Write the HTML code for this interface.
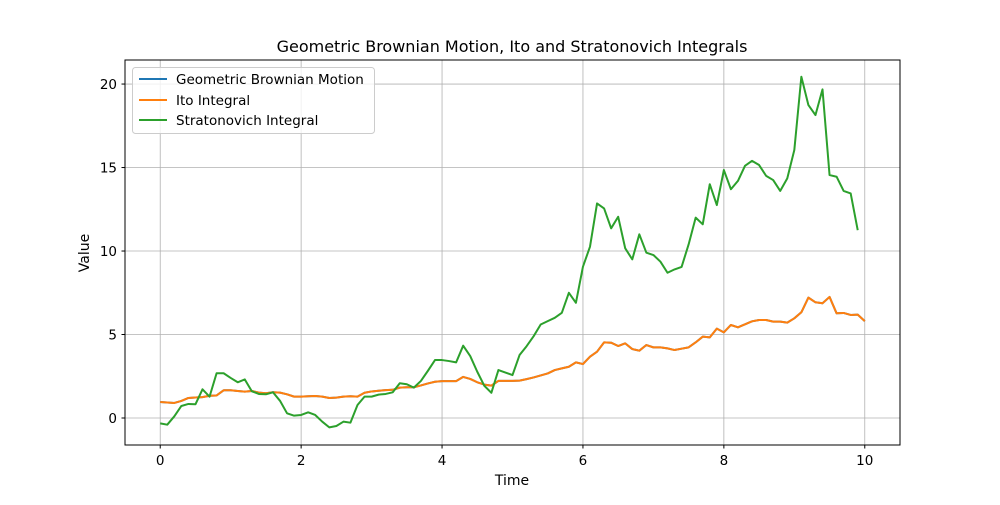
<!DOCTYPE html>
<html><head><meta charset="utf-8"><style>
body{margin:0;background:#fff;font-family:"Liberation Sans","DejaVu Sans",sans-serif}
svg text{font-family:"DejaVu Sans","Liberation Sans",sans-serif}
</style></head><body>
<svg id="chart" width="1000" height="500" xmlns="http://www.w3.org/2000/svg">
<rect width="1000" height="500" fill="#fff"/>
<text x="512" y="52" font-size="16" text-anchor="middle">Geometric Brownian Motion, Ito and Stratonovich Integrals</text>
<g id="grid"></g><g id="ticks"></g><g id="series"></g>
<rect x="125" y="60" width="775" height="385" fill="none" stroke="#000" stroke-width="1"/>
<text x="512" y="485" font-size="14" text-anchor="middle">Time</text>
<text x="89" y="253" font-size="14" text-anchor="middle" transform="rotate(-90 89 253)">Value</text>
<g>
<rect x="132.5" y="67.5" width="242" height="66" rx="3" fill="#fff" fill-opacity="0.8" stroke="#ccc"/>
<g><line x1="139" y1="79" x2="167" y2="79" stroke="#1f77b4" stroke-width="2"/><text x="176" y="84" font-size="13.5">Geometric Brownian Motion</text></g>
<g><line x1="139" y1="100" x2="167" y2="100" stroke="#ff7f0e" stroke-width="2"/><text x="176" y="105" font-size="13.5">Ito Integral</text></g>
<g><line x1="139" y1="120" x2="167" y2="120" stroke="#2ca02c" stroke-width="2"/><text x="176" y="125" font-size="13.5">Stratonovich Integral</text></g>
</g>
</svg>
<script>
const xTicks=[0,2,4,6,8,10];
const yTicks=[0,5,10,15,20];
const dt=0.1;
const gbm=[0.96,0.93,0.9,1.02,1.2,1.23,1.25,1.33,1.35,1.66,1.66,1.62,1.58,1.62,1.52,1.48,1.54,1.52,1.42,1.28,1.28,1.3,1.32,1.28,1.2,1.22,1.28,1.3,1.28,1.51,1.59,1.63,1.67,1.69,1.82,1.84,1.84,1.95,2.07,2.17,2.21,2.21,2.21,2.46,2.34,2.14,2.0,1.94,2.22,2.22,2.22,2.24,
2.33,2.43,2.55,2.67,2.87,2.97,3.07,3.33,3.23,3.67,3.97,4.53,4.51,4.31,4.47,4.13,4.03,4.37,4.23,4.23,4.17,4.07,4.15,4.23,4.53,4.87,4.83,5.35,5.13,5.57,5.43,5.61,5.79,5.87,5.87,5.77,5.77,5.71,5.97,6.33,7.21,6.93,6.87,7.25,6.27,6.29,6.17,6.19,5.8];
const ito=gbm.slice();
const strat=[-0.32,-0.4,0.1,0.72,0.84,0.82,1.72,1.28,2.68,2.68,2.4,2.14,2.31,1.6,1.44,1.42,1.54,1.03,0.28,0.14,0.18,0.34,0.18,-0.22,-0.56,-0.48,-0.22,-0.28,0.78,1.28,1.28,1.4,1.44,1.54,2.08,2.02,1.82,2.22,2.83,3.47,3.47,3.41,3.33,4.33,3.71,2.77,1.93,1.51,2.87,2.72,2.57,3.77,
4.3,4.9,5.6,5.8,6.0,6.3,7.5,6.9,9.06,10.26,12.85,12.55,11.36,12.05,10.16,9.5,11.0,9.9,9.76,9.36,8.7,8.9,9.05,10.4,12.0,11.6,14.0,12.75,14.85,13.7,14.2,15.1,15.4,15.15,14.5,14.25,13.6,14.35,16.05,20.44,18.74,18.14,19.68,14.55,14.45,13.6,13.45,11.25];
const NS="http://www.w3.org/2000/svg";
const X=v=>125+(v+0.5)/11*775;
const Y=v=>445-(v+1.617)/(21.44+1.617)*385;
const grid=document.getElementById('grid'),ticks=document.getElementById('ticks'),ser=document.getElementById('series');
function mk(tag,attrs,parent){const e=document.createElementNS(NS,tag);for(const k in attrs)e.setAttribute(k,attrs[k]);parent.appendChild(e);return e;}
xTicks.forEach(t=>{const x=X(t);
const g=mk('line',{x1:x,x2:x,y1:60,y2:445,stroke:'#b0b0b0','stroke-width':0.8},grid);


mk('line',{x1:x,x2:x,y1:445,y2:448.5,stroke:'#000'},ticks);
const tx=mk('text',{x:x,y:465,'font-size':13.5,'text-anchor':'middle'},ticks);tx.textContent=t;

});
yTicks.forEach(t=>{const y=Y(t);
const g=mk('line',{x1:125,x2:900,y1:y,y2:y,stroke:'#b0b0b0','stroke-width':0.8},grid);


mk('line',{x1:121.5,x2:125,y1:y,y2:y,stroke:'#000'},ticks);
const tx=mk('text',{x:117,y:y+5,'font-size':13.5,'text-anchor':'end'},ticks);tx.textContent=t;

});
function line(arr,color,name){const p=arr.map((v,i)=>X(i*dt).toFixed(2)+','+Y(v).toFixed(2)).join(' ');
const l=mk('polyline',{points:p,fill:'none',stroke:color,'stroke-width':2,'stroke-linejoin':'round'},ser);

}
line(gbm,'#1f77b4','gbm-line');
line(ito,'#ff7f0e','ito-integral-line');
line(strat,'#2ca02c','stratonovich-integral-line');
</script>
</body></html>
